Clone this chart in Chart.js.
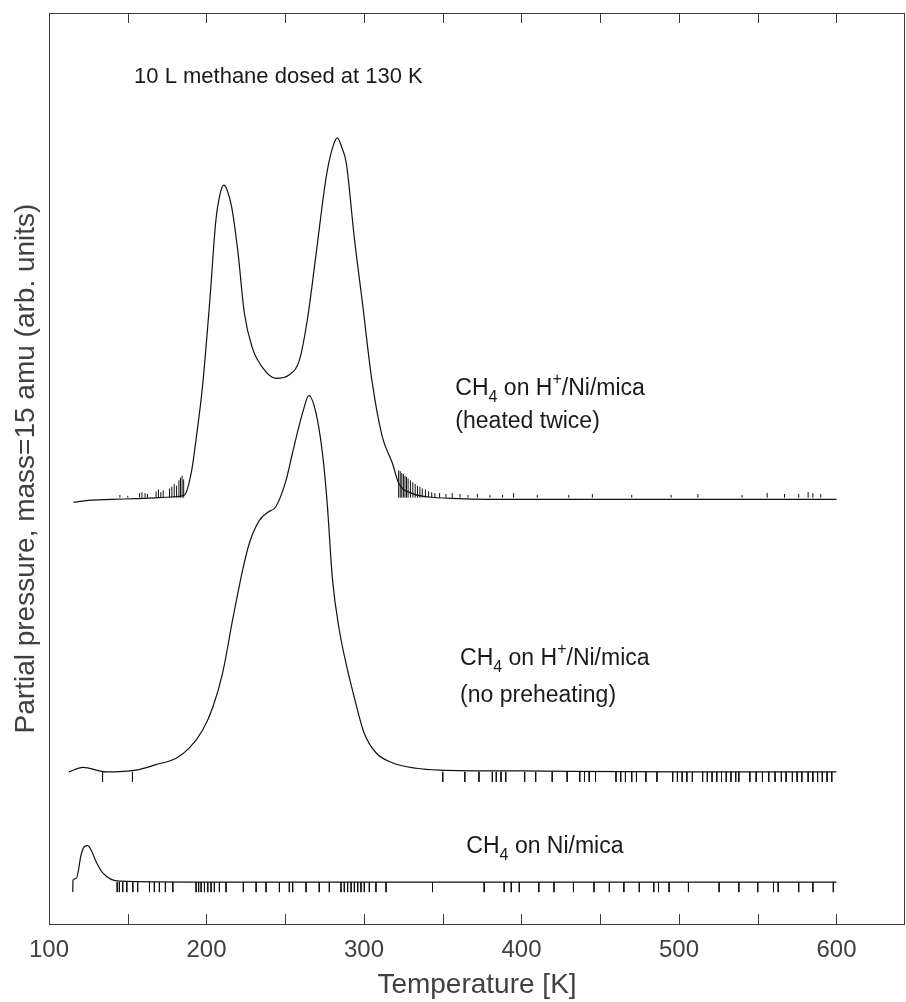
<!DOCTYPE html>
<html>
<head>
<meta charset="utf-8">
<script src="https://cdn.jsdelivr.net/npm/chart.js@4.4.0/dist/chart.umd.min.js"></script>
<style>
  html,body{margin:0;padding:0;background:#fff;overflow:hidden}
  #wrap{width:906px;height:1002px}
</style>
</head>
<body>
<div id="wrap"><canvas id="tpd"></canvas></div>
<script>
// === data (temperature in K, partial pressure in arb. units) ===
// CH4 on H+/Ni/mica (heated twice)
const T_heated = [115.5,125,140,155,170,180,186,190.6,193.6,197.4,202,206,209,211,213,216,220,224,229,235.5,244,252.6,259,264,269.7,276,280,283,286,288.8,293.8,299,305,311.6,318,322,330,340,360,400,450,500,550,600];
const P_heated = [46.3,46.5,46.6,46.7,46.8,46.9,47.1,49.8,53.5,58.9,68.2,77.3,80.4,81.1,80.6,78.7,73.7,67.1,63.3,61.1,59.9,60.3,61.9,66.3,73.7,82.0,85.2,86.3,85.2,83.5,75.4,68.2,59.7,53.5,50.6,48.4,47.3,46.9,46.7,46.6,46.6,46.6,46.6,46.6];
// CH4 on H+/Ni/mica (no preheating)
const T_nopre = [112.6,121.5,136.3,155.3,168,180.7,189,197.6,204,210.3,216.6,223,227.2,233.6,239,244,250.5,254.6,261,265,269.5,273.6,276.5,280,284.3,288.6,293.8,300,307.6,318,333,347.8,400,500,600];
const P_nopre = [16.7,17.2,16.7,16.9,17.5,18.2,19.3,21.3,23.8,27.6,33.4,38.9,41.8,44.3,45.2,45.8,48.7,51.7,56.1,58.0,56.1,51.7,46.5,37.8,32.3,28.6,24.9,21.0,18.8,17.7,17.1,16.9,16.8,16.7,16.7];
// CH4 on Ni/mica
const T_nimica = [115.1,115.2,117.3,120.4,122.5,124.6,126.8,130,134.1,139.5,144.7,200,300,400,500,600];
const P_nimica = [3.5,4.8,5.0,7.6,8.5,8.6,8.1,6.8,5.6,4.9,4.7,4.6,4.6,4.6,4.6,4.6];

// noise spikes (position in K, height in arb. units)
const spikeHeatedT = [145,150,157.5,159,161,162.5,168,169.5,171,172.5,176.5,178,179.5,181,182.5,183.5,184.5,185.5,
  322,323,324,325,326,327,328,329.5,331,332.5,334,335.5,337,339,341,343,345,348,352,356,361,366,372,380,388,395,410,430,445,470,495,512,540,556,567,576,582,585,590];
const spikeHeatedH = [0.3,0.2,0.5,0.6,0.5,0.4,0.7,0.9,0.6,0.8,1.0,1.2,1.5,1.3,1.9,2.2,2.4,2.0,
  3.0,2.9,2.7,2.6,2.4,2.3,2.1,1.9,1.7,1.5,1.3,1.2,1.0,0.9,0.7,0.6,0.5,0.5,0.4,0.5,0.4,0.3,0.4,0.3,0.3,0.5,0.3,0.3,0.4,0.3,0.3,0.4,0.3,0.5,0.4,0.4,0.6,0.5,0.4];
const spikeHeatedBase = 46.8;
const spikeNopreT = [134,153,350,364,373,381.5,384,387,390,402,409,419.5,429,437,440,443,447,460,463,466,470,473,479,486,496,499,502,505,508.5,515,518,521,524,527,530,533,536,538,545,549,553,557,561,565,568,572,575,578,582,585,588,591,594,597];
const spikeNopreBase = 16.7, spikeNopreDepth = 1.1;
const spikeNimicaT = [143.3,144.7,146.8,149.4,153.2,156.3,163.8,166.9,170.1,173.9,178.6,193.4,195,196.6,198.7,200.8,202.9,205,208.2,212.4,223.4,231.5,237.8,246.3,252.6,254.7,263.2,271.6,278,285.4,287.5,289.6,291.8,293.9,296,298.1,300.2,303.4,307.6,314,343.5,376.3,389,393.5,398.6,411,420.6,433,446,455.8,465,474.8,484,487,493.7,506,525.5,538,550,560,563,576,585,598];
const spikeNimicaBase = 4.6, spikeNimicaDepth = 1.1;

// x axis
const X_MIN = 100, X_MAX = 643.5, X_STEP = 50;

// === helpers ===
const FONT = "'Liberation Sans', Arial, Helvetica, sans-serif";
const toPts = (xs, ys) => xs.map((x,i)=>({x, y:ys[i]}));
function spikePts(xs, base, h){
  const out = [];
  xs.forEach((x,i)=>{
    const d = Array.isArray(h) ? h[i] : h;
    out.push({x, y:base}, {x, y:base+d}, {x, y:null});
  });
  return out;
}
const curve = (pts) => ({data:pts, borderColor:"#111", borderWidth:1.2, pointRadius:0, fill:false,
  cubicInterpolationMode:"monotone"});
const spikes = (pts) => ({data:pts, borderColor:"#111", borderWidth:1, pointRadius:0, fill:false,
  tension:0, spanGaps:false});

// box + inward ticks (MATLAB style)
const frame = {
  id:"frame",
  afterDatasetsDraw(chart){
    const {ctx, chartArea:a, scales:{x}} = chart;
    ctx.save();
    ctx.strokeStyle = "#3a3a3a"; ctx.lineWidth = 1;
    ctx.strokeRect(Math.round(a.left)+0.5, Math.round(a.top)+0.5, Math.round(a.right-a.left)-1, Math.round(a.bottom-a.top));
    ctx.beginPath();
    x.ticks.forEach(t=>{
      const px = Math.round(x.getPixelForValue(t.value))+0.5;
      ctx.moveTo(px, a.bottom); ctx.lineTo(px, a.bottom-10);
      ctx.moveTo(px, a.top); ctx.lineTo(px, a.top+10);
    });
    ctx.stroke();
    ctx.restore();
  }
};

// text notes: parts are [text, 0 normal | 1 subscript | -1 superscript]
const notes = [
  {T:154, v:92.3, size:22, parts:[["10 L methane dosed at 130 K",0]]},
  {T:358, v:58.1, size:23, parts:[["CH",0],["4",1],[" on H",0],["+",-1],["/Ni/mica",0]]},
  {T:358, v:54.4, size:23, parts:[["(heated twice)",0]]},
  {T:361, v:28.4, size:23, parts:[["CH",0],["4",1],[" on H",0],["+",-1],["/Ni/mica",0]]},
  {T:361, v:24.4, size:23, parts:[["(no preheating)",0]]},
  {T:365, v:7.8,  size:23, parts:[["CH",0],["4",1],[" on Ni/mica",0]]}
];
const notesPlugin = {
  id:"notes",
  afterDatasetsDraw(chart){
    const {ctx, scales:{x,y}} = chart;
    ctx.save();
    ctx.fillStyle = "#1a1a1a"; ctx.textBaseline = "alphabetic"; ctx.textAlign = "left";
    notes.forEach(n=>{
      let px = x.getPixelForValue(n.T);
      const py = y.getPixelForValue(n.v);
      n.parts.forEach(([s,k])=>{
        const fs = k===0 ? n.size : Math.round(n.size*0.7);
        ctx.font = fs + "px " + FONT;
        const dy = k===1 ? 7 : k===-1 ? -11 : 0;
        ctx.fillText(s, px, py+dy);
        px += ctx.measureText(s).width;
      });
    });
    ctx.restore();
  }
};

new Chart(document.getElementById("tpd"), {
  type:"line",
  data:{datasets:[
    curve(toPts(T_heated, P_heated)),
    curve(toPts(T_nopre, P_nopre)),
    curve(toPts(T_nimica, P_nimica)),
    spikes(spikePts(spikeHeatedT, spikeHeatedBase, spikeHeatedH)),
    spikes(spikePts(spikeNopreT, spikeNopreBase, -spikeNopreDepth)),
    spikes(spikePts(spikeNimicaT, spikeNimicaBase, -spikeNimicaDepth))
  ]},
  options:{
    responsive:true, maintainAspectRatio:false, animation:false,
    layout:{padding:{top:13, right:1, left:0, bottom:0}},
    plugins:{legend:{display:false}, tooltip:{enabled:false}},
    scales:{
      x:{type:"linear", min:X_MIN, max:X_MAX,
        afterFit(s){ s.height = 78; },
        grid:{display:false, drawTicks:false}, border:{display:false},
        ticks:{stepSize:X_STEP, autoSkip:false, includeBounds:false, maxRotation:0, padding:12,
          color:"#404040", font:{family:FONT, size:24},
          callback:v => v % 100 === 0 ? String(v) : ""},
        title:{display:true, text:"Temperature [K]", color:"#404040",
          font:{family:FONT, size:28}, padding:{top:0, bottom:0}}
      },
      y:{type:"linear", min:0, max:100,
        afterFit(s){ s.width = 49; },
        grid:{display:false, drawTicks:false}, border:{display:false},
        ticks:{display:false},
        title:{display:true, text:"Partial pressure, mass=15 amu (arb. units)", color:"#404040",
          font:{family:FONT, size:28}, padding:{top:9, bottom:0}}
      }
    }
  },
  plugins:[frame, notesPlugin]
});
</script>
</body>
</html>
